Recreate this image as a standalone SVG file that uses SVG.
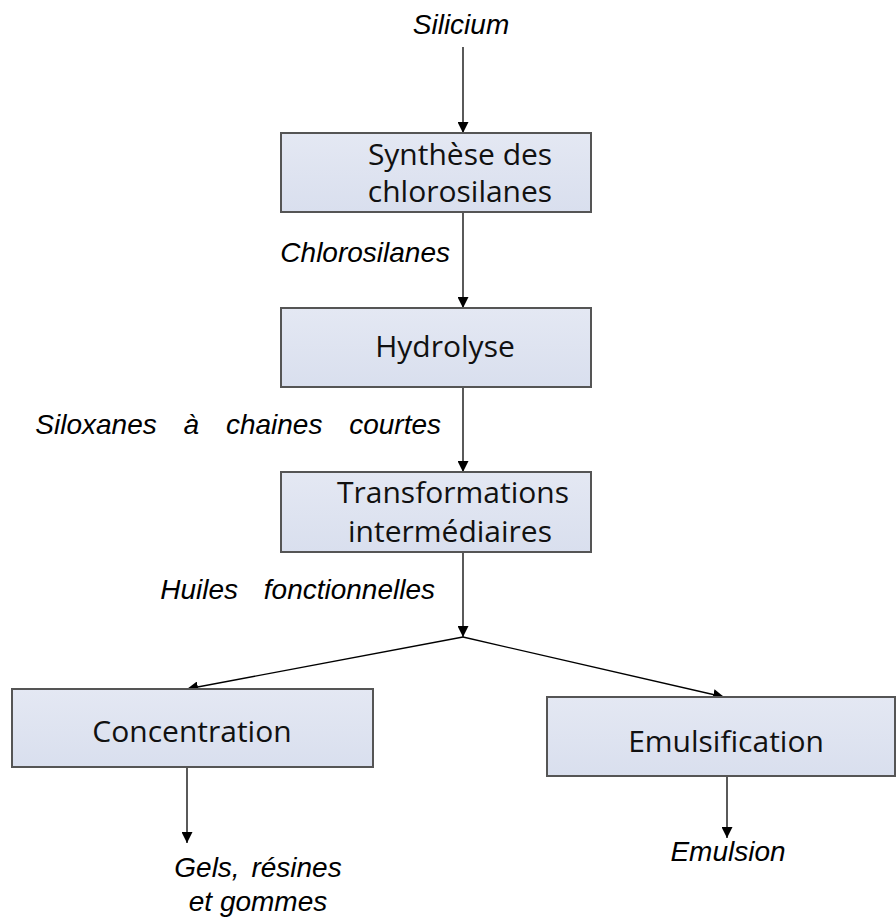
<svg xmlns="http://www.w3.org/2000/svg" width="896" height="917" viewBox="0 0 896 917">
<defs>
<linearGradient id="bg" x1="0" y1="0" x2="0" y2="1">
<stop offset="0" stop-color="#e4e8f3"/>
<stop offset="1" stop-color="#d9dfee"/>
</linearGradient>
<marker id="ah" viewBox="0 0 10 10" refX="10" refY="5" markerWidth="11" markerHeight="11" markerUnits="userSpaceOnUse" orient="auto">
<path d="M0,0 L10,5 L0,10 z" fill="#000"/>
</marker>
<style>
.box{fill:url(#bg);stroke:#555;stroke-width:2}
.bt{font-family:"Open Sans","Noto Sans",sans-serif;font-size:30px;fill:#111;text-anchor:middle}
.lb{font-family:"Liberation Sans",Arial,sans-serif;font-style:italic;font-size:28px;fill:#000}
.cn{fill:none;stroke:#000;stroke-width:1.3;marker-end:url(#ah)}
</style>
</defs>
<g id="connectors">
<line class="cn" x1="463" y1="47" x2="463" y2="133"/>
<line class="cn" x1="463" y1="212" x2="463" y2="308"/>
<line class="cn" x1="463" y1="387" x2="463" y2="472"/>
<line class="cn" x1="463" y1="552" x2="463" y2="637"/>
<line class="cn" x1="463" y1="637" x2="187" y2="689"/>
<line class="cn" x1="463" y1="637" x2="724" y2="697"/>
<line class="cn" x1="187" y1="767" x2="187" y2="843"/>
<line class="cn" x1="727" y1="776" x2="727" y2="838"/>
</g>
<g id="silicium"><text class="lb" x="461" y="34" text-anchor="middle">Silicium</text></g>
<g id="synthese">
<rect class="box" x="281" y="133" width="310" height="79"/>
<text class="bt" x="460" y="165">Synthèse des</text>
<text class="bt" x="460" y="202">chlorosilanes</text>
</g>
<g id="lbl-chlorosilanes"><text class="lb" x="450" y="262" text-anchor="end">Chlorosilanes</text></g>
<g id="hydrolyse">
<rect class="box" x="281" y="308" width="310" height="79"/>
<text class="bt" x="445" y="357">Hydrolyse</text>
</g>
<g id="lbl-siloxanes"><text class="lb" x="441" y="434" text-anchor="end" style="word-spacing:19px">Siloxanes à chaines courtes</text></g>
<g id="transformations">
<rect class="box" x="281" y="472" width="310" height="80"/>
<text class="bt" x="453" y="503">Transformations</text>
<text class="bt" x="450" y="542">intermédiaires</text>
</g>
<g id="lbl-huiles"><text class="lb" x="435" y="599" text-anchor="end" style="word-spacing:18px">Huiles fonctionnelles</text></g>
<g id="concentration">
<rect class="box" x="12" y="689" width="361" height="78"/>
<text class="bt" x="192" y="742">Concentration</text>
</g>
<g id="emulsification">
<rect class="box" x="547" y="697" width="348" height="79"/>
<text class="bt" x="726" y="752">Emulsification</text>
</g>
<g id="lbl-gels">
<text class="lb" x="258" y="877" text-anchor="middle" style="word-spacing:4px">Gels, résines</text>
<text class="lb" x="258" y="911" text-anchor="middle">et gommes</text>
</g>
<g id="lbl-emulsion"><text class="lb" x="728" y="861" text-anchor="middle">Emulsion</text></g>
</svg>
